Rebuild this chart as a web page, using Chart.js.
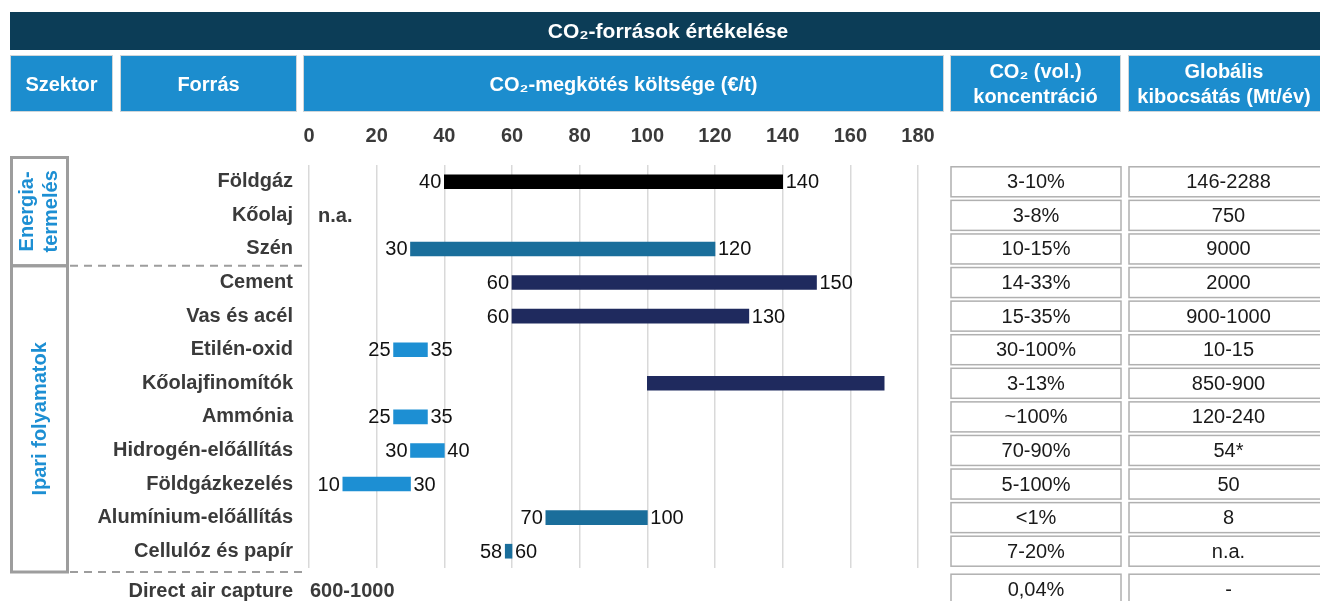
<!DOCTYPE html>
<html>
<head>
<meta charset="utf-8">
<script src="https://cdn.jsdelivr.net/npm/chart.js@4.4.1/dist/chart.umd.min.js"></script>
<style>
  html, body { margin: 0; padding: 0; background: #fff; }
  #wrap { width: 1320px; height: 601px; }
</style>
</head>
<body>
<div id="wrap"><canvas id="co2Chart" width="1320" height="601"></canvas></div>
<script>
const FONT = '"Liberation Sans", Arial, sans-serif';

const sources = ['Földgáz', 'Kőolaj', 'Szén', 'Cement', 'Vas és acél', 'Etilén-oxid', 'Kőolajfinomítók',
    'Ammónia', 'Hidrogén-előállítás', 'Földgázkezelés', 'Alumínium-előállítás', 'Cellulóz és papír'];
const costMin = [40, null, 30, 60, 60, 25, 100, 25, 30, 10, 70, 58];
const costMax = [140, null, 120, 150, 130, 35, 170, 35, 40, 30, 100, 60];
const showCostLabels = [true, false, true, true, true, true, false, true, true, true, true, true];
const barColors = ['#000000', '#1a6e9b', '#1a6e9b', '#1f2a5e', '#1f2a5e', '#1d8fd3', '#1f2a5e',
    '#1d8fd3', '#1d8fd3', '#1d8fd3', '#1a6e9b', '#1a6e9b'];
const concentration = ['3-10%', '3-8%', '10-15%', '14-33%', '15-35%', '30-100%', '3-13%',
    '~100%', '70-90%', '5-100%', '<1%', '7-20%'];
const emission = ['146-2288', '750', '9000', '2000', '900-1000', '10-15', '850-900',
    '120-240', '54*', '50', '8', 'n.a.'];
const xTicks = { min: 0, max: 180, step: 20 };

// extra row below the chart
const dacLabel = 'Direct air capture';
const dacCost = '600-1000';
const dacConcentration = '0,04%';
const dacEmission = '-';
const naText = 'n.a.';

const title = 'CO₂-források értékelése';
const headers = [
    { x1: 10, x2: 113, lines: ['Szektor'] },
    { x1: 120, x2: 297, lines: ['Forrás'] },
    { x1: 303, x2: 944, lines: ['CO₂-megkötés költsége (€/t)'] },
    { x1: 950, x2: 1121, lines: ['CO₂ (vol.)', 'koncentráció'] },
    { x1: 1128, x2: 1330, lines: ['Globális', 'kibocsátás (Mt/év)'] }
];

const ranges = costMin.map((v, i) => (v === null ? null : [v, costMax[i]]));

function text(ctx, str, x, y, align, font, color) {
    ctx.font = font;
    ctx.fillStyle = color;
    ctx.textAlign = align;
    ctx.textBaseline = 'middle';
    ctx.fillText(str, x, y);
}

const tablePlugin = {
    id: 'tablePlugin',
    afterDraw(chart) {
        const ctx = chart.ctx;
        const yScale = chart.scales.y;
        const area = chart.chartArea;
        ctx.save();

        // title bar
        ctx.fillStyle = '#0c3d57';
        ctx.fillRect(10, 12, 1320, 38);
        text(ctx, title, 668, 32, 'center', 'bold 21px ' + FONT, '#ffffff');

        // header boxes
        headers.forEach(h => {
            ctx.fillStyle = '#1c8dce';
            ctx.fillRect(h.x1, 55, h.x2 - h.x1, 57);
            ctx.strokeStyle = '#cfd6da';
            ctx.lineWidth = 1;
            ctx.strokeRect(h.x1 + 0.5, 55.5, h.x2 - h.x1 - 1, 56);
            const cx = (h.x1 + Math.min(h.x2, 1320)) / 2;
            if (h.lines.length === 1) {
                text(ctx, h.lines[0], cx, 85, 'center', 'bold 20px ' + FONT, '#ffffff');
            } else {
                text(ctx, h.lines[0], cx, 72, 'center', 'bold 20px ' + FONT, '#ffffff');
                text(ctx, h.lines[1], cx, 97, 'center', 'bold 20px ' + FONT, '#ffffff');
            }
        });

        // right table cells
        const drawCell = (x1, x2, yc, str) => {
            ctx.fillStyle = '#ffffff';
            ctx.fillRect(x1, yc - 15, x2 - x1, 30);
            ctx.strokeStyle = '#b0b0b0';
            ctx.lineWidth = 1.5;
            ctx.strokeRect(x1, yc - 15, x2 - x1, 30);
            text(ctx, str, (x1 + Math.min(x2, 1328)) / 2, yc + 1, 'center', '20px ' + FONT, '#1a1a1a');
        };
        sources.forEach((s, i) => {
            const yc = yScale.getPixelForValue(i);
            drawCell(951, 1121, yc, concentration[i]);
            drawCell(1129, 1340, yc, emission[i]);
        });
        const dacY = yScale.getPixelForValue(sources.length - 1) + 39;
        drawCell(951, 1121, dacY - 1, dacConcentration);
        drawCell(1129, 1340, dacY - 1, dacEmission);

        // sector boxes
        const sepY = (yScale.getPixelForValue(2) + yScale.getPixelForValue(3)) / 2;
        const bottomY = area.bottom + 4;
        ctx.strokeStyle = '#9d9d9d';
        ctx.lineWidth = 3;
        ctx.strokeRect(11.5, 157.5, 56, sepY - 157.5);
        ctx.strokeRect(11.5, sepY, 56, bottomY - sepY);

        ctx.save();
        ctx.translate(39, (157 + sepY) / 2);
        ctx.rotate(-Math.PI / 2);
        text(ctx, 'Energia-', 0, -12, 'center', 'bold 20px ' + FONT, '#1d8fd3');
        text(ctx, 'termelés', 0, 12, 'center', 'bold 20px ' + FONT, '#1d8fd3');
        ctx.restore();
        ctx.save();
        ctx.translate(40, (sepY + bottomY) / 2);
        ctx.rotate(-Math.PI / 2);
        text(ctx, 'Ipari folyamatok', 0, 0, 'center', 'bold 20px ' + FONT, '#1d8fd3');
        ctx.restore();

        // dashed separators
        ctx.strokeStyle = '#9d9d9d';
        ctx.lineWidth = 2;
        ctx.setLineDash([8, 6]);
        [sepY, bottomY].forEach(y => {
            ctx.beginPath();
            ctx.moveTo(70, y);
            ctx.lineTo(308, y);
            ctx.stroke();
        });
        ctx.setLineDash([]);

        // n.a. and direct air capture row
        text(ctx, naText, 318, yScale.getPixelForValue(1) + 1, 'left', 'bold 20px ' + FONT, '#3a3a3a');
        text(ctx, dacLabel, 293, dacY + 1, 'right', 'bold 20px ' + FONT, '#3a3a3a');
        text(ctx, dacCost, 310, dacY + 1, 'left', 'bold 20px ' + FONT, '#3a3a3a');

        // bar value labels
        const meta = chart.getDatasetMeta(0);
        meta.data.forEach((bar, i) => {
            if (ranges[i] === null || !showCostLabels[i]) return;
            const left = Math.min(bar.x, bar.base);
            const right = Math.max(bar.x, bar.base);
            text(ctx, String(costMin[i]), left - 3, bar.y + 1, 'right', '20px ' + FONT, '#111111');
            text(ctx, String(costMax[i]), right + 3, bar.y + 1, 'left', '20px ' + FONT, '#111111');
        });

        ctx.restore();
    }
};

const ctx = document.getElementById('co2Chart').getContext('2d');
new Chart(ctx, {
    type: 'bar',
    data: {
        labels: sources,
        datasets: [{
            data: ranges,
            backgroundColor: barColors,
            borderWidth: 0,
            borderSkipped: false,
            barThickness: 14
        }]
    },
    options: {
        indexAxis: 'y',
        responsive: false,
        animation: false,
        layout: { padding: { top: 120, right: 402, bottom: 33, left: 0 } },
        plugins: {
            legend: { display: false },
            tooltip: { enabled: false }
        },
        scales: {
            x: {
                position: 'top',
                min: xTicks.min,
                max: xTicks.max,
                ticks: {
                    stepSize: xTicks.step,
                    padding: 17,
                    color: '#3a3a3a',
                    font: { family: FONT, size: 20, weight: 'bold' }
                },
                grid: { color: '#d9d9d9', lineWidth: 1.5, drawTicks: false },
                border: { display: false },
                afterFit: scale => { scale.height = 45; }
            },
            y: {
                ticks: {
                    padding: 16,
                    color: '#3a3a3a',
                    font: { family: FONT, size: 20, weight: 'bold' }
                },
                grid: { display: false, drawTicks: false },
                border: { display: false },
                afterFit: scale => { scale.width = 309; }
            }
        }
    },
    plugins: [tablePlugin]
});
</script>
</body>
</html>
